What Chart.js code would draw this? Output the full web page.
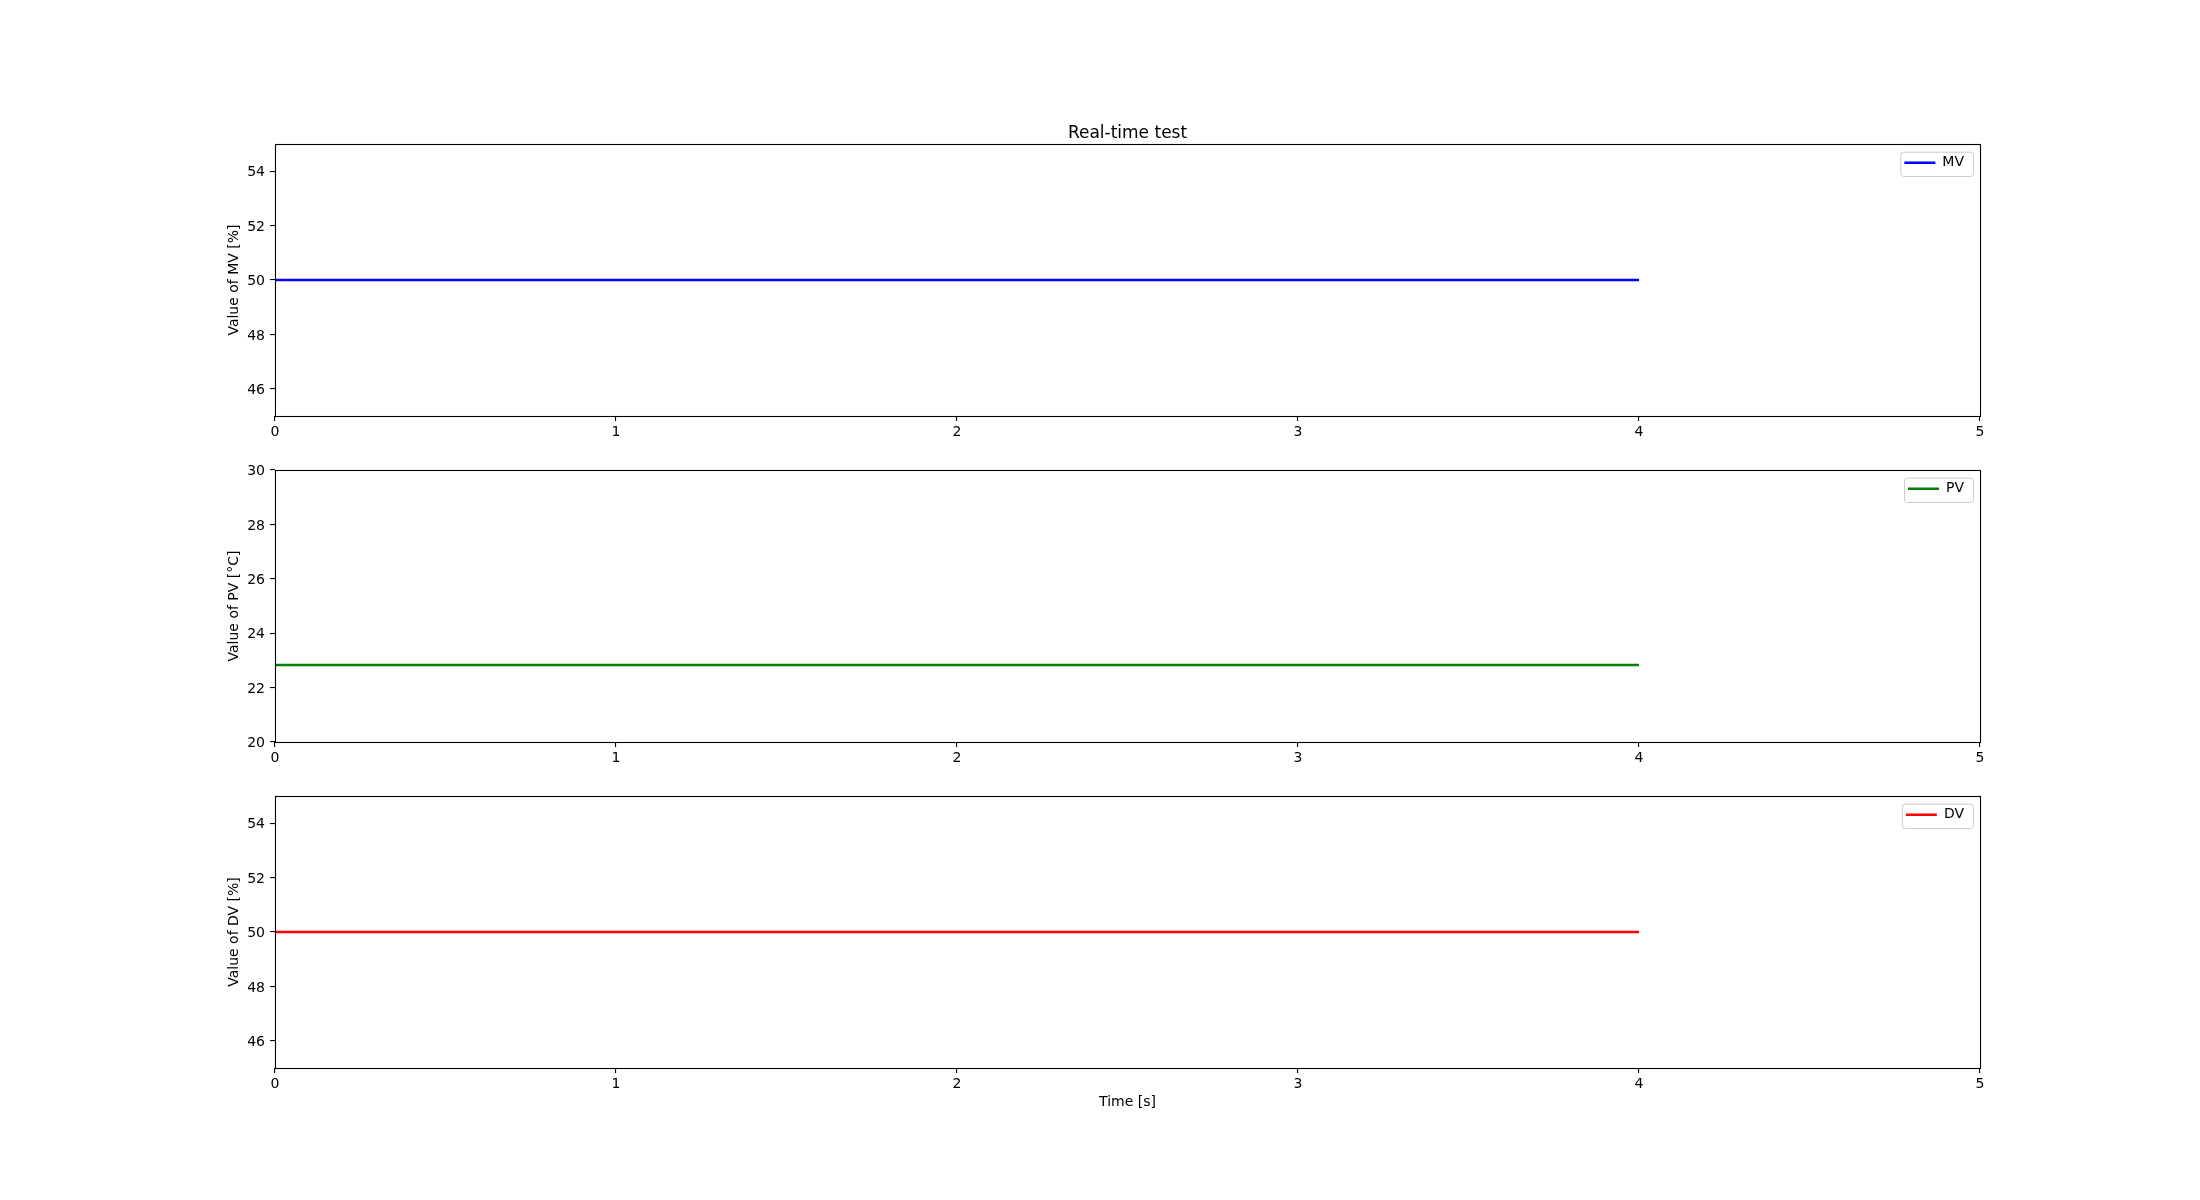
<!DOCTYPE html>
<html><head><meta charset="utf-8">
<script src="https://cdn.jsdelivr.net/npm/chart.js@4.4.1/dist/chart.umd.min.js"></script>
<style>
html,body{margin:0;padding:0;background:#fff;}
#wrap{position:relative;width:2200px;height:1200px;background:#fff;}
.box{position:absolute;left:0;width:2200px;}
canvas{display:block;}
</style></head><body>
<div id="wrap">
<div class="box" style="top:0;height:445px"><canvas id="c1" width="2200" height="445"></canvas></div>
<div class="box" style="top:445px;height:325px"><canvas id="c2" width="2200" height="325"></canvas></div>
<div class="box" style="top:770px;height:430px"><canvas id="c3" width="2200" height="430"></canvas></div>
</div>
<script>
// ---- data ----
const time = [0, 1, 2, 3, 4];
const mvValues = [50, 50, 50, 50, 50];
const pvValues = [22.83, 22.83, 22.83, 22.83, 22.83];
const dvValues = [50, 50, 50, 50, 50];
const xTicks = [0, 1, 2, 3, 4, 5];
const mvTicks = [46, 48, 50, 52, 54];
const pvTicks = [20, 22, 24, 26, 28, 30];
const dvTicks = [46, 48, 50, 52, 54];

Chart.defaults.font.family = "'DejaVu Sans', sans-serif";
Chart.defaults.font.size = 14;
Chart.defaults.color = '#000';

const frameBox = {
  id: 'frameBox',
  afterDraw(chart) {
    const ca = chart.chartArea, ctx = chart.ctx;
    ctx.save();
    ctx.strokeStyle = '#000';
    ctx.lineWidth = 1.1;
    const l = Math.round(ca.left) + 0.5, t = Math.round(ca.top) + 0.5;
    const r = Math.round(ca.right) + 0.5, b = Math.round(ca.bottom) + 0.5;
    ctx.strokeRect(l, t, r - l, b - t);
    ctx.restore();
  }
};

const mplLegend = {
  id: 'mplLegend',
  afterLayout(chart) {
    const lg = chart.legend; if (!lg) return;
    const ca = chart.chartArea, ctx = chart.ctx;
    ctx.save(); ctx.font = "14px 'DejaVu Sans'";
    const tw = ctx.measureText(chart.data.datasets[0].label).width;
    ctx.restore();
    const pad = lg.options.labels.padding;
    const frameRight = ca.right - 7;
    const itemX = frameRight - 7 - tw - 9 - 31;
    const itemY = ca.top + 18.7 - 7;
    lg.left = itemX - pad; lg.right = lg.left + lg.width;
    lg.top = itemY - pad; lg.bottom = lg.top + lg.height;
    chart.$frame = {x: itemX - 4, y: ca.top + 7.7, w: frameRight - (itemX - 4), h: 24.3};
  },
  beforeDraw(chart) {
    const f = chart.$frame; if (!f) return;
    const ctx = chart.ctx;
    ctx.save();
    ctx.beginPath();
    if (ctx.roundRect) ctx.roundRect(f.x + 0.5, f.y + 0.5, f.w, f.h, 3); else ctx.rect(f.x + 0.5, f.y + 0.5, f.w, f.h);
    ctx.fillStyle = 'rgba(255,255,255,0.8)';
    ctx.fill();
    ctx.strokeStyle = '#cccccc';
    ctx.lineWidth = 1;
    ctx.stroke();
    ctx.restore();
  }
};

function makeChart(id, label, color, values, yMin, yMax, yTicks, yTitle, cfg) {
  const points = time.map((t, i) => ({x: t, y: values[i]}));
  return new Chart(document.getElementById(id), {
    type: 'line',
    data: { datasets: [{ label: label, data: points, borderColor: color, backgroundColor: color,
      borderWidth: 2.4, pointRadius: 0, fill: false, tension: 0 }] },
    options: {
      responsive: false, animation: false, devicePixelRatio: 1,
      layout: { padding: { top: cfg.padTop, left: 0, right: 220, bottom: 0 } },
      plugins: {
        tooltip: { enabled: false },
        title: cfg.title ? { display: true, text: cfg.title, fullSize: false,
          font: { size: 17, weight: 'normal' }, color: '#000', padding: { top: 0, bottom: 0 } } : { display: false },
        legend: { display: true, position: 'chartArea', align: 'start',
          labels: { usePointStyle: true, pointStyle: 'line', pointStyleWidth: 31, padding: 10,
            color: '#000', font: { size: 14 } } }
      },
      scales: {
        x: {
          type: 'linear', min: 0, max: 5,
          afterBuildTicks: s => { s.ticks = xTicks.map(v => ({ value: v })); },
          afterFit: s => { s.height = cfg.xH; },
          ticks: { autoSkip: false, maxRotation: 0, padding: 3, color: '#000', font: { size: 14 } },
          grid: { drawOnChartArea: false, drawTicks: true, tickLength: 5, color: '#000', lineWidth: 1.1 },
          border: { display: false },
          title: cfg.xTitle ? { display: true, text: cfg.xTitle, color: '#000', font: { size: 14 },
            padding: { top: 0, bottom: cfg.xTitlePad } } : { display: false }
        },
        y: {
          min: yMin, max: yMax,
          afterBuildTicks: s => { s.ticks = yTicks.map(v => ({ value: v })); },
          afterFit: s => { s.width = 275; },
          ticks: { autoSkip: false, padding: 5, labelOffset: 1.5, color: '#000', font: { size: 14 } },
          grid: { drawOnChartArea: false, drawTicks: true, tickLength: 5, color: '#000', lineWidth: 1.1 },
          border: { display: false },
          title: { display: true, text: yTitle, color: '#000', font: { size: 14 },
            padding: { top: 225.6, bottom: 0 } }
        }
      }
    },
    plugins: [frameBox, mplLegend]
  });
}

makeChart('c1', 'MV', '#0000ff', mvValues, 45, 55, mvTicks, 'Value of MV [%]',
  { padTop: 123.6, xH: 29, title: 'Real-time test' });
makeChart('c2', 'PV', '#008000', pvValues, 20, 30, pvTicks, 'Value of PV [°C]',
  { padTop: 25, xH: 28 });
makeChart('c3', 'DV', '#ff0000', dvValues, 45, 55, dvTicks, 'Value of DV [%]',
  { padTop: 26, xH: 132, xTitle: 'Time [s]', xTitlePad: 88.9 });
</script>
</body></html>
